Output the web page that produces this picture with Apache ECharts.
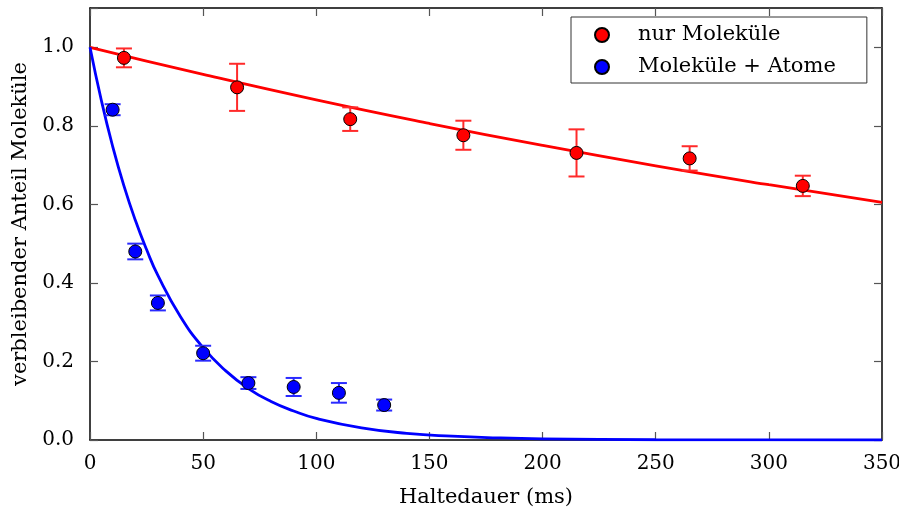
<!DOCTYPE html>
<html>
<head>
<meta charset="utf-8">
<script src="https://cdn.jsdelivr.net/npm/echarts@6/dist/echarts.min.js"></script>
<style>html,body{margin:0;padding:0;background:#fff}#c{width:899px;height:516px}</style>
</head>
<body>
<div id="c"></div>
<script>
// x tick labels
const xTicks = [0, 50, 100, 150, 200, 250, 300, 350];
const yTicks = [0.0, 0.2, 0.4, 0.6, 0.8, 1.0];

// series "nur Moleküle": time (ms), value, error
const molX = [15, 65, 115, 165, 215, 265, 315];
const molY = [0.973, 0.898, 0.817, 0.776, 0.731, 0.717, 0.647];
const molErr = [0.024, 0.060, 0.030, 0.037, 0.060, 0.031, 0.026];

// series "Moleküle + Atome"
const atX = [10, 20, 30, 50, 70, 90, 110, 130];
const atY = [0.841, 0.480, 0.349, 0.221, 0.145, 0.135, 0.120, 0.089];
const atErr = [0.014, 0.020, 0.019, 0.019, 0.015, 0.023, 0.025, 0.014];

// fit curves
const molFitX = [0, 50, 100, 150, 200, 250, 300, 350];
const molFitY = [1.0, 0.931, 0.866, 0.806, 0.750, 0.698, 0.650, 0.605];
const atFitX = [0, 5, 10, 15, 20, 25, 30, 40, 50, 60, 70, 80, 90, 100, 120, 140, 160, 180, 200, 250, 300, 350];
const atFitY = [1.0, 0.865, 0.748, 0.647, 0.560, 0.485, 0.419, 0.314, 0.235, 0.176, 0.131, 0.098, 0.074, 0.055, 0.031, 0.017, 0.0097, 0.0054, 0.003, 0.0007, 0.0002, 0.0];

const names = ['nur Moleküle', 'Moleküle + Atome'];
const FONT = 'DejaVu Serif';

const zip2 = (a, b) => a.map((v, i) => [v, b[i]]);
const zip3 = (a, b, c) => a.map((v, i) => [v, b[i], c[i]]);

function errBar(color) {
  return function (params, api) {
    const x = api.value(0), y = api.value(1), e = api.value(2);
    const top = api.coord([x, y + e]);
    const bot = api.coord([x, y - e]);
    const hw = 8;
    const st = { stroke: color, lineWidth: 2 };
    return {
      type: 'group',
      children: [
        { type: 'line', shape: { x1: top[0], y1: top[1], x2: bot[0], y2: bot[1] }, style: st },
        { type: 'line', shape: { x1: top[0] - hw, y1: top[1], x2: top[0] + hw, y2: top[1] }, style: st },
        { type: 'line', shape: { x1: bot[0] - hw, y1: bot[1], x2: bot[0] + hw, y2: bot[1] }, style: st }
      ]
    };
  };
}

const axisLabel = { fontFamily: FONT, fontSize: 20, color: '#000' };
const tick = { show: true, inside: true, length: 8, lineStyle: { color: '#555', width: 1.2 } };
const lineStyle = { color: '#000', width: 1.5 };
const axLine = { show: true, onZero: false, lineStyle };

const chart = echarts.init(document.getElementById('c'), null, { renderer: 'canvas' });
chart.setOption({
  animation: false,
  backgroundColor: '#fff',
  grid: { left: 90, right: 17, top: 8, bottom: 76, outerBoundsMode: 'none', containLabel: false },
  xAxis: [
    {
      type: 'value', min: xTicks[0], max: xTicks[xTicks.length - 1], interval: 50,
      name: 'Haltedauer (ms)', nameLocation: 'middle', nameGap: 47,
      nameTextStyle: { fontFamily: FONT, fontSize: 21, color: '#000' },
      axisLine: axLine, axisTick: tick,
      axisLabel: Object.assign({ margin: 14, customValues: xTicks }, axisLabel), splitLine: { show: false }
    },
    {
      type: 'value', position: 'top', min: 0, max: 350, interval: 50,
      axisLine: axLine, axisTick: tick,
      axisLabel: { show: false }, splitLine: { show: false }
    }
  ],
  yAxis: [
    {
      type: 'value', min: 0, max: 1.1, interval: 0.2,
      name: 'verbleibender Anteil Moleküle', nameLocation: 'middle', nameGap: 56,
      nameTextStyle: { fontFamily: FONT, fontSize: 21, color: '#000' },
      axisLine: axLine, axisTick: tick,
      axisLabel: Object.assign({ margin: 16, customValues: yTicks, formatter: v => v.toFixed(1) }, axisLabel),
      splitLine: { show: false }
    },
    {
      type: 'value', position: 'right', min: 0, max: 1.1, interval: 0.2,
      axisLine: axLine, axisTick: tick,
      axisLabel: { show: false }, splitLine: { show: false }
    }
  ],
  legend: {
    data: names,
    left: 571, top: 17, orient: 'vertical',
    padding: [6, 31, 4, 23],
    itemWidth: 14, itemHeight: 14, itemGap: 8,
    backgroundColor: '#fff', borderColor: '#333', borderWidth: 1, borderRadius: 0,
    textStyle: { fontFamily: FONT, fontSize: 21, color: '#000', lineHeight: 24, padding: [0, 0, 0, 24] }
  },
  series: [
    {
      type: 'line', data: zip2(molFitX, molFitY), smooth: true, showSymbol: false,
      lineStyle: { color: '#ff0000', width: 2.8 }, z: 2, silent: true
    },
    {
      type: 'line', data: zip2(atFitX, atFitY), smooth: true, showSymbol: false,
      lineStyle: { color: '#0000ff', width: 2.8 }, z: 2, silent: true
    },
    {
      type: 'custom', data: zip3(molX, molY, molErr), renderItem: errBar('#ff2a2a'), z: 3, silent: true
    },
    {
      type: 'custom', data: zip3(atX, atY, atErr), renderItem: errBar('#2a2aff'), z: 3, silent: true
    },
    {
      name: names[0], type: 'scatter', data: zip2(molX, molY), symbol: 'circle', symbolSize: 13,
      itemStyle: { color: '#ff0000', borderColor: '#000', borderWidth: 1, opacity: 1 }, z: 4
    },
    {
      name: names[1], type: 'scatter', data: zip2(atX, atY), symbol: 'circle', symbolSize: 13,
      itemStyle: { color: '#0000ff', borderColor: '#000', borderWidth: 1, opacity: 1 }, z: 4
    }
  ]
});
</script>
</body>
</html>
